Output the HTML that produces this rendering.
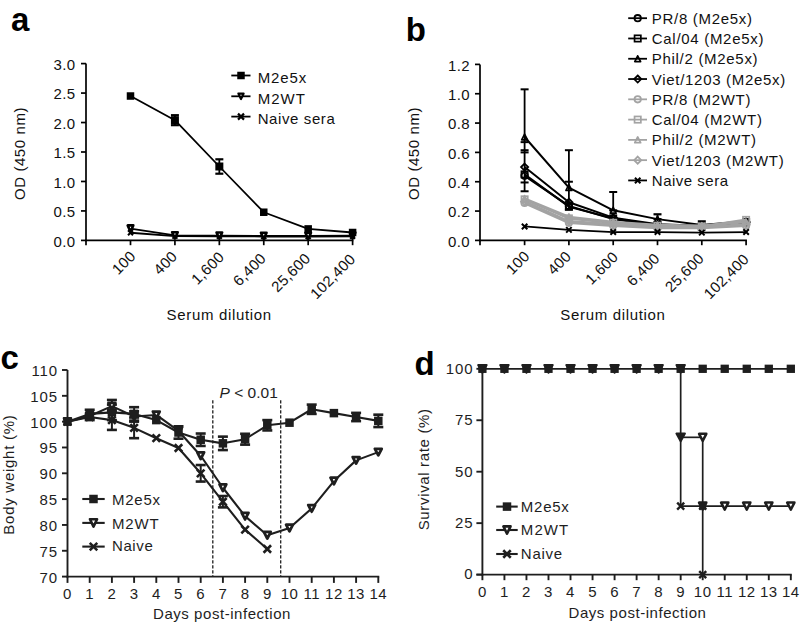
<!DOCTYPE html><html><head><meta charset="utf-8"><style>html,body{margin:0;padding:0;background:#fff;}svg{display:block;}text{font-family:"Liberation Sans", sans-serif;}</style></head><body>
<svg width="802" height="624" viewBox="0 0 802 624">
<rect width="802" height="624" fill="#fff"/>
<text x="11" y="31.3" font-size="33" text-anchor="start" letter-spacing="0" fill="#000" font-weight="bold">a</text>
<line x1="86" y1="63.6" x2="86" y2="241.25" stroke="#000" stroke-width="1.7" />
<line x1="81" y1="240.4" x2="86" y2="240.4" stroke="#000" stroke-width="1.7" />
<text x="75.4" y="246.7" font-size="15" text-anchor="end" letter-spacing="0.35" fill="#111" font-weight="normal">0.0</text>
<line x1="81" y1="210.93" x2="86" y2="210.93" stroke="#000" stroke-width="1.7" />
<text x="75.4" y="217.23" font-size="15" text-anchor="end" letter-spacing="0.35" fill="#111" font-weight="normal">0.5</text>
<line x1="81" y1="181.47" x2="86" y2="181.47" stroke="#000" stroke-width="1.7" />
<text x="75.4" y="187.77" font-size="15" text-anchor="end" letter-spacing="0.35" fill="#111" font-weight="normal">1.0</text>
<line x1="81" y1="152" x2="86" y2="152" stroke="#000" stroke-width="1.7" />
<text x="75.4" y="158.3" font-size="15" text-anchor="end" letter-spacing="0.35" fill="#111" font-weight="normal">1.5</text>
<line x1="81" y1="122.53" x2="86" y2="122.53" stroke="#000" stroke-width="1.7" />
<text x="75.4" y="128.83" font-size="15" text-anchor="end" letter-spacing="0.35" fill="#111" font-weight="normal">2.0</text>
<line x1="81" y1="93.07" x2="86" y2="93.07" stroke="#000" stroke-width="1.7" />
<text x="75.4" y="99.37" font-size="15" text-anchor="end" letter-spacing="0.35" fill="#111" font-weight="normal">2.5</text>
<line x1="81" y1="63.6" x2="86" y2="63.6" stroke="#000" stroke-width="1.7" />
<text x="75.4" y="69.9" font-size="15" text-anchor="end" letter-spacing="0.35" fill="#111" font-weight="normal">3.0</text>
<line x1="85.15" y1="240.4" x2="353.45" y2="240.4" stroke="#000" stroke-width="1.7" />
<line x1="86" y1="240.4" x2="86" y2="245.2" stroke="#000" stroke-width="1.7" />
<line x1="130.5" y1="240.4" x2="130.5" y2="245.2" stroke="#000" stroke-width="1.7" />
<line x1="174.92" y1="240.4" x2="174.92" y2="245.2" stroke="#000" stroke-width="1.7" />
<line x1="219.34" y1="240.4" x2="219.34" y2="245.2" stroke="#000" stroke-width="1.7" />
<line x1="263.76" y1="240.4" x2="263.76" y2="245.2" stroke="#000" stroke-width="1.7" />
<line x1="308.18" y1="240.4" x2="308.18" y2="245.2" stroke="#000" stroke-width="1.7" />
<line x1="352.6" y1="240.4" x2="352.6" y2="245.2" stroke="#000" stroke-width="1.7" />
<text x="0" y="0" font-size="15" text-anchor="end" letter-spacing="0.3" fill="#111" transform="translate(136.5,257.1) rotate(-45)">100</text>
<text x="0" y="0" font-size="15" text-anchor="end" letter-spacing="0.3" fill="#111" transform="translate(178.12,257.3) rotate(-45)">400</text>
<text x="0" y="0" font-size="15" text-anchor="end" letter-spacing="0.3" fill="#111" transform="translate(225.14,258) rotate(-45)">1,600</text>
<text x="0" y="0" font-size="15" text-anchor="end" letter-spacing="0.3" fill="#111" transform="translate(266.96,259.3) rotate(-45)">6,400</text>
<text x="0" y="0" font-size="15" text-anchor="end" letter-spacing="0.3" fill="#111" transform="translate(311.28,259.3) rotate(-45)">25,600</text>
<text x="0" y="0" font-size="15" text-anchor="end" letter-spacing="0.3" fill="#111" transform="translate(356.3,260.1) rotate(-45)">102,400</text>
<text x="219.2" y="319.6" font-size="15" text-anchor="middle" letter-spacing="0.67" fill="#111" font-weight="normal">Serum dilution</text>
<text x="0" y="0" font-size="15" text-anchor="middle" letter-spacing="0.58" fill="#111" transform="translate(24.8,153.5) rotate(-90)">OD (450 nm)</text>
<polyline points="130.5,232.74 174.92,236.16 219.34,236.27 263.76,236.51 308.18,236.51 352.6,236.27" fill="none" stroke="#000" stroke-width="1.8" stroke-linejoin="round"/>
<polyline points="130.5,228.61 174.92,235.39 219.34,235.69 263.76,235.98 308.18,235.98 352.6,235.69" fill="none" stroke="#000" stroke-width="1.8" stroke-linejoin="round"/>
<polyline points="130.5,96.01 174.92,120.18 219.34,166.5 263.76,212.23 308.18,228.91 352.6,232.5" fill="none" stroke="#000" stroke-width="1.8" stroke-linejoin="round"/>
<line x1="174.92" y1="115.18" x2="174.92" y2="125.18" stroke="#000" stroke-width="1.8" />
<line x1="170.92" y1="115.18" x2="178.92" y2="115.18" stroke="#000" stroke-width="2.2" />
<line x1="170.92" y1="125.18" x2="178.92" y2="125.18" stroke="#000" stroke-width="2.2" />
<line x1="219.34" y1="159.3" x2="219.34" y2="173.7" stroke="#000" stroke-width="1.8" />
<line x1="215.34" y1="159.3" x2="223.34" y2="159.3" stroke="#000" stroke-width="2.2" />
<line x1="215.34" y1="173.7" x2="223.34" y2="173.7" stroke="#000" stroke-width="2.2" />
<path d="M128,230.24L133,235.24M133,230.24L128,235.24" stroke="#000" stroke-width="2" fill="none"/>
<path d="M172.42,233.66L177.42,238.66M177.42,233.66L172.42,238.66" stroke="#000" stroke-width="2" fill="none"/>
<path d="M216.84,233.77L221.84,238.77M221.84,233.77L216.84,238.77" stroke="#000" stroke-width="2" fill="none"/>
<path d="M261.26,234.01L266.26,239.01M266.26,234.01L261.26,239.01" stroke="#000" stroke-width="2" fill="none"/>
<path d="M305.68,234.01L310.68,239.01M310.68,234.01L305.68,239.01" stroke="#000" stroke-width="2" fill="none"/>
<path d="M350.1,233.77L355.1,238.77M355.1,233.77L350.1,238.77" stroke="#000" stroke-width="2" fill="none"/>
<polygon points="127.7,225.41 133.3,225.41 130.5,231.77" fill="#fff" stroke="#000" stroke-width="2.6" stroke-linejoin="round"/>
<polygon points="172.12,232.19 177.72,232.19 174.92,238.55" fill="#fff" stroke="#000" stroke-width="2.6" stroke-linejoin="round"/>
<polygon points="216.54,232.49 222.14,232.49 219.34,238.85" fill="#fff" stroke="#000" stroke-width="2.6" stroke-linejoin="round"/>
<polygon points="260.96,232.78 266.56,232.78 263.76,239.14" fill="#fff" stroke="#000" stroke-width="2.6" stroke-linejoin="round"/>
<polygon points="305.38,232.78 310.98,232.78 308.18,239.14" fill="#fff" stroke="#000" stroke-width="2.6" stroke-linejoin="round"/>
<polygon points="349.8,232.49 355.4,232.49 352.6,238.85" fill="#fff" stroke="#000" stroke-width="2.6" stroke-linejoin="round"/>
<rect x="126.75" y="92.26" width="7.5" height="7.5" fill="#000"/>
<rect x="170.92" y="116.18" width="8" height="8" fill="#000"/>
<rect x="215.34" y="162.5" width="8" height="8" fill="#000"/>
<rect x="260.01" y="208.48" width="7.5" height="7.5" fill="#000"/>
<rect x="304.43" y="225.16" width="7.5" height="7.5" fill="#000"/>
<rect x="348.85" y="228.75" width="7.5" height="7.5" fill="#000"/>
<line x1="231.3" y1="75.5" x2="250.5" y2="75.5" stroke="#000" stroke-width="1.8" />
<rect x="237.25" y="71.75" width="7.5" height="7.5" fill="#000"/>
<text x="257.7" y="82.8" font-size="15" text-anchor="start" letter-spacing="0.9" fill="#111" font-weight="normal">M2e5x</text>
<line x1="231.3" y1="96.3" x2="250.5" y2="96.3" stroke="#000" stroke-width="1.8" />
<polygon points="238.4,93.57 243.6,93.57 241,98.99" fill="#fff" stroke="#000" stroke-width="2.2" stroke-linejoin="round"/>
<text x="257.7" y="103.6" font-size="15" text-anchor="start" letter-spacing="1.0" fill="#111" font-weight="normal">M2WT</text>
<line x1="231.3" y1="116.6" x2="250.5" y2="116.6" stroke="#000" stroke-width="1.8" />
<path d="M238,113.6L244,119.6M244,113.6L238,119.6" stroke="#000" stroke-width="2.2" fill="none"/>
<text x="257.7" y="123.9" font-size="15" text-anchor="start" letter-spacing="0.6" fill="#111" font-weight="normal">Naive sera</text>
<text x="405.8" y="41" font-size="33" text-anchor="start" letter-spacing="0" fill="#000" font-weight="bold">b</text>
<line x1="480" y1="64.4" x2="480" y2="241.25" stroke="#000" stroke-width="1.7" />
<line x1="475" y1="240.4" x2="480" y2="240.4" stroke="#000" stroke-width="1.7" />
<text x="469.9" y="246.8" font-size="15" text-anchor="end" letter-spacing="0.35" fill="#111" font-weight="normal">0.0</text>
<line x1="475" y1="211.07" x2="480" y2="211.07" stroke="#000" stroke-width="1.7" />
<text x="469.9" y="217.47" font-size="15" text-anchor="end" letter-spacing="0.35" fill="#111" font-weight="normal">0.2</text>
<line x1="475" y1="181.73" x2="480" y2="181.73" stroke="#000" stroke-width="1.7" />
<text x="469.9" y="188.13" font-size="15" text-anchor="end" letter-spacing="0.35" fill="#111" font-weight="normal">0.4</text>
<line x1="475" y1="152.4" x2="480" y2="152.4" stroke="#000" stroke-width="1.7" />
<text x="469.9" y="158.8" font-size="15" text-anchor="end" letter-spacing="0.35" fill="#111" font-weight="normal">0.6</text>
<line x1="475" y1="123.07" x2="480" y2="123.07" stroke="#000" stroke-width="1.7" />
<text x="469.9" y="129.47" font-size="15" text-anchor="end" letter-spacing="0.35" fill="#111" font-weight="normal">0.8</text>
<line x1="475" y1="93.73" x2="480" y2="93.73" stroke="#000" stroke-width="1.7" />
<text x="469.9" y="100.13" font-size="15" text-anchor="end" letter-spacing="0.35" fill="#111" font-weight="normal">1.0</text>
<line x1="475" y1="64.4" x2="480" y2="64.4" stroke="#000" stroke-width="1.7" />
<text x="469.9" y="70.8" font-size="15" text-anchor="end" letter-spacing="0.35" fill="#111" font-weight="normal">1.2</text>
<line x1="479.15" y1="240.4" x2="746.95" y2="240.4" stroke="#000" stroke-width="1.7" />
<line x1="480" y1="240.4" x2="480" y2="245.2" stroke="#000" stroke-width="1.7" />
<line x1="524.6" y1="240.4" x2="524.6" y2="245.2" stroke="#000" stroke-width="1.7" />
<line x1="568.9" y1="240.4" x2="568.9" y2="245.2" stroke="#000" stroke-width="1.7" />
<line x1="613.2" y1="240.4" x2="613.2" y2="245.2" stroke="#000" stroke-width="1.7" />
<line x1="657.5" y1="240.4" x2="657.5" y2="245.2" stroke="#000" stroke-width="1.7" />
<line x1="701.8" y1="240.4" x2="701.8" y2="245.2" stroke="#000" stroke-width="1.7" />
<line x1="746.1" y1="240.4" x2="746.1" y2="245.2" stroke="#000" stroke-width="1.7" />
<text x="0" y="0" font-size="15" text-anchor="end" letter-spacing="0.3" fill="#111" transform="translate(530.6,257.1) rotate(-45)">100</text>
<text x="0" y="0" font-size="15" text-anchor="end" letter-spacing="0.3" fill="#111" transform="translate(572.1,257.3) rotate(-45)">400</text>
<text x="0" y="0" font-size="15" text-anchor="end" letter-spacing="0.3" fill="#111" transform="translate(619,258) rotate(-45)">1,600</text>
<text x="0" y="0" font-size="15" text-anchor="end" letter-spacing="0.3" fill="#111" transform="translate(660.7,259.3) rotate(-45)">6,400</text>
<text x="0" y="0" font-size="15" text-anchor="end" letter-spacing="0.3" fill="#111" transform="translate(704.9,259.3) rotate(-45)">25,600</text>
<text x="0" y="0" font-size="15" text-anchor="end" letter-spacing="0.3" fill="#111" transform="translate(749.8,260.1) rotate(-45)">102,400</text>
<text x="613" y="319.6" font-size="15" text-anchor="middle" letter-spacing="0.67" fill="#111" font-weight="normal">Serum dilution</text>
<text x="0" y="0" font-size="15" text-anchor="middle" letter-spacing="0.58" fill="#111" transform="translate(418.8,153.5) rotate(-90)">OD (450 nm)</text>
<line x1="524.6" y1="89.33" x2="524.6" y2="191.27" stroke="#000" stroke-width="1.8" />
<line x1="520.6" y1="89.33" x2="528.6" y2="89.33" stroke="#000" stroke-width="2" />
<line x1="520.6" y1="142.13" x2="528.6" y2="142.13" stroke="#000" stroke-width="2" />
<line x1="520.6" y1="150.2" x2="528.6" y2="150.2" stroke="#000" stroke-width="2" />
<line x1="520.6" y1="152.4" x2="528.6" y2="152.4" stroke="#000" stroke-width="2" />
<line x1="520.6" y1="182.47" x2="528.6" y2="182.47" stroke="#000" stroke-width="2" />
<line x1="520.6" y1="191.27" x2="528.6" y2="191.27" stroke="#000" stroke-width="2" />
<line x1="568.9" y1="150.2" x2="568.9" y2="209.6" stroke="#000" stroke-width="1.8" />
<line x1="564.9" y1="150.2" x2="572.9" y2="150.2" stroke="#000" stroke-width="2" />
<line x1="564.9" y1="209.6" x2="572.9" y2="209.6" stroke="#000" stroke-width="2" />
<line x1="564.9" y1="181.73" x2="572.9" y2="181.73" stroke="#000" stroke-width="2" />
<line x1="613.2" y1="192" x2="613.2" y2="210.33" stroke="#000" stroke-width="1.8" />
<line x1="609.2" y1="192" x2="617.2" y2="192" stroke="#000" stroke-width="2" />
<line x1="609.2" y1="210.33" x2="617.2" y2="210.33" stroke="#000" stroke-width="2" />
<line x1="657.5" y1="214.29" x2="657.5" y2="219.13" stroke="#000" stroke-width="1.8" />
<line x1="653.5" y1="214.29" x2="661.5" y2="214.29" stroke="#000" stroke-width="2.2" />
<line x1="653.5" y1="219.13" x2="661.5" y2="219.13" stroke="#000" stroke-width="2.2" />
<line x1="701.8" y1="221.33" x2="701.8" y2="225" stroke="#000" stroke-width="1.8" />
<line x1="697.8" y1="221.33" x2="705.8" y2="221.33" stroke="#000" stroke-width="2.2" />
<line x1="697.8" y1="225" x2="705.8" y2="225" stroke="#000" stroke-width="2.2" />
<polyline points="524.6,175.87 568.9,205.93 613.2,219.13 657.5,225.73 701.8,226.47 746.1,222.8" fill="none" stroke="#000" stroke-width="2.0" stroke-linejoin="round"/>
<circle cx="524.6" cy="175.87" r="3.2" fill="none" stroke="#000" stroke-width="1.8"/>
<circle cx="568.9" cy="205.93" r="3.2" fill="none" stroke="#000" stroke-width="1.8"/>
<circle cx="613.2" cy="219.13" r="3.2" fill="none" stroke="#000" stroke-width="1.8"/>
<circle cx="657.5" cy="225.73" r="3.2" fill="none" stroke="#000" stroke-width="1.8"/>
<circle cx="701.8" cy="226.47" r="3.2" fill="none" stroke="#000" stroke-width="1.8"/>
<circle cx="746.1" cy="222.8" r="3.2" fill="none" stroke="#000" stroke-width="1.8"/>
<polyline points="524.6,174.4 568.9,206.67 613.2,218.4 657.5,225 701.8,226.47 746.1,222.07" fill="none" stroke="#000" stroke-width="2.0" stroke-linejoin="round"/>
<rect x="521.45" y="171.25" width="6.3" height="6.3" fill="none" stroke="#000" stroke-width="1.7"/>
<rect x="565.75" y="203.52" width="6.3" height="6.3" fill="none" stroke="#000" stroke-width="1.7"/>
<rect x="610.05" y="215.25" width="6.3" height="6.3" fill="none" stroke="#000" stroke-width="1.7"/>
<rect x="654.35" y="221.85" width="6.3" height="6.3" fill="none" stroke="#000" stroke-width="1.7"/>
<rect x="698.65" y="223.32" width="6.3" height="6.3" fill="none" stroke="#000" stroke-width="1.7"/>
<rect x="742.95" y="218.92" width="6.3" height="6.3" fill="none" stroke="#000" stroke-width="1.7"/>
<polyline points="524.6,137 568.9,187.6 613.2,210.33 657.5,219.13 701.8,225 746.1,221.33" fill="none" stroke="#000" stroke-width="2.0" stroke-linejoin="round"/>
<polygon points="521.68,139.84 527.52,139.84 524.6,134.02" fill="none" stroke="#000" stroke-width="1.7" stroke-linejoin="round"/>
<polygon points="565.98,190.44 571.82,190.44 568.9,184.62" fill="none" stroke="#000" stroke-width="1.7" stroke-linejoin="round"/>
<polygon points="610.28,213.17 616.12,213.17 613.2,207.35" fill="none" stroke="#000" stroke-width="1.7" stroke-linejoin="round"/>
<polygon points="654.58,221.97 660.42,221.97 657.5,216.15" fill="none" stroke="#000" stroke-width="1.7" stroke-linejoin="round"/>
<polygon points="698.88,227.84 704.72,227.84 701.8,222.02" fill="none" stroke="#000" stroke-width="1.7" stroke-linejoin="round"/>
<polygon points="743.18,224.17 749.02,224.17 746.1,218.35" fill="none" stroke="#000" stroke-width="1.7" stroke-linejoin="round"/>
<polyline points="524.6,167.07 568.9,202.27 613.2,217.67 657.5,224.27 701.8,225.73 746.1,222.07" fill="none" stroke="#000" stroke-width="2.0" stroke-linejoin="round"/>
<polygon points="524.6,163.53 528.14,167.07 524.6,170.61 521.06,167.07" fill="none" stroke="#000" stroke-width="1.8"/>
<polygon points="568.9,198.73 572.44,202.27 568.9,205.81 565.36,202.27" fill="none" stroke="#000" stroke-width="1.8"/>
<polygon points="613.2,214.13 616.74,217.67 613.2,221.21 609.66,217.67" fill="none" stroke="#000" stroke-width="1.8"/>
<polygon points="657.5,220.73 661.04,224.27 657.5,227.81 653.96,224.27" fill="none" stroke="#000" stroke-width="1.8"/>
<polygon points="701.8,222.19 705.34,225.73 701.8,229.27 698.26,225.73" fill="none" stroke="#000" stroke-width="1.8"/>
<polygon points="746.1,218.53 749.64,222.07 746.1,225.61 742.56,222.07" fill="none" stroke="#000" stroke-width="1.8"/>
<polyline points="524.6,203 568.9,222.8 613.2,225.73 657.5,227.93 701.8,227.93 746.1,225.73" fill="none" stroke="#a3a3a3" stroke-width="2.6" stroke-linejoin="round"/>
<circle cx="524.6" cy="203" r="3.2" fill="none" stroke="#a3a3a3" stroke-width="1.8"/>
<circle cx="568.9" cy="222.8" r="3.2" fill="none" stroke="#a3a3a3" stroke-width="1.8"/>
<circle cx="613.2" cy="225.73" r="3.2" fill="none" stroke="#a3a3a3" stroke-width="1.8"/>
<circle cx="657.5" cy="227.93" r="3.2" fill="none" stroke="#a3a3a3" stroke-width="1.8"/>
<circle cx="701.8" cy="227.93" r="3.2" fill="none" stroke="#a3a3a3" stroke-width="1.8"/>
<circle cx="746.1" cy="225.73" r="3.2" fill="none" stroke="#a3a3a3" stroke-width="1.8"/>
<polyline points="524.6,199.33 568.9,218.4 613.2,222.8 657.5,225.73 701.8,226.47 746.1,219.87" fill="none" stroke="#a3a3a3" stroke-width="2.6" stroke-linejoin="round"/>
<rect x="521.45" y="196.18" width="6.3" height="6.3" fill="none" stroke="#a3a3a3" stroke-width="1.7"/>
<rect x="565.75" y="215.25" width="6.3" height="6.3" fill="none" stroke="#a3a3a3" stroke-width="1.7"/>
<rect x="610.05" y="219.65" width="6.3" height="6.3" fill="none" stroke="#a3a3a3" stroke-width="1.7"/>
<rect x="654.35" y="222.58" width="6.3" height="6.3" fill="none" stroke="#a3a3a3" stroke-width="1.7"/>
<rect x="698.65" y="223.32" width="6.3" height="6.3" fill="none" stroke="#a3a3a3" stroke-width="1.7"/>
<rect x="742.95" y="216.72" width="6.3" height="6.3" fill="none" stroke="#a3a3a3" stroke-width="1.7"/>
<polyline points="524.6,198.6 568.9,216.93 613.2,222.07 657.5,225 701.8,225.73 746.1,222.07" fill="none" stroke="#a3a3a3" stroke-width="2.6" stroke-linejoin="round"/>
<polygon points="521.68,201.44 527.52,201.44 524.6,195.62" fill="none" stroke="#a3a3a3" stroke-width="1.7" stroke-linejoin="round"/>
<polygon points="565.98,219.77 571.82,219.77 568.9,213.95" fill="none" stroke="#a3a3a3" stroke-width="1.7" stroke-linejoin="round"/>
<polygon points="610.28,224.91 616.12,224.91 613.2,219.09" fill="none" stroke="#a3a3a3" stroke-width="1.7" stroke-linejoin="round"/>
<polygon points="654.58,227.84 660.42,227.84 657.5,222.02" fill="none" stroke="#a3a3a3" stroke-width="1.7" stroke-linejoin="round"/>
<polygon points="698.88,228.57 704.72,228.57 701.8,222.75" fill="none" stroke="#a3a3a3" stroke-width="1.7" stroke-linejoin="round"/>
<polygon points="743.18,224.91 749.02,224.91 746.1,219.09" fill="none" stroke="#a3a3a3" stroke-width="1.7" stroke-linejoin="round"/>
<polyline points="524.6,201.53 568.9,221.33 613.2,224.27 657.5,227.2 701.8,227.2 746.1,224.27" fill="none" stroke="#a3a3a3" stroke-width="2.6" stroke-linejoin="round"/>
<polygon points="524.6,197.99 528.14,201.53 524.6,205.07 521.06,201.53" fill="none" stroke="#a3a3a3" stroke-width="1.8"/>
<polygon points="568.9,217.79 572.44,221.33 568.9,224.87 565.36,221.33" fill="none" stroke="#a3a3a3" stroke-width="1.8"/>
<polygon points="613.2,220.73 616.74,224.27 613.2,227.81 609.66,224.27" fill="none" stroke="#a3a3a3" stroke-width="1.8"/>
<polygon points="657.5,223.66 661.04,227.2 657.5,230.74 653.96,227.2" fill="none" stroke="#a3a3a3" stroke-width="1.8"/>
<polygon points="701.8,223.66 705.34,227.2 701.8,230.74 698.26,227.2" fill="none" stroke="#a3a3a3" stroke-width="1.8"/>
<polygon points="746.1,220.73 749.64,224.27 746.1,227.81 742.56,224.27" fill="none" stroke="#a3a3a3" stroke-width="1.8"/>
<polyline points="524.6,226.47 568.9,229.84 613.2,232.04 657.5,232.04 701.8,232.63 746.1,232.04" fill="none" stroke="#000" stroke-width="1.8" stroke-linejoin="round"/>
<path d="M521.85,223.72L527.35,229.22M527.35,223.72L521.85,229.22" stroke="#000" stroke-width="2" fill="none"/>
<path d="M566.15,227.09L571.65,232.59M571.65,227.09L566.15,232.59" stroke="#000" stroke-width="2" fill="none"/>
<path d="M610.45,229.29L615.95,234.79M615.95,229.29L610.45,234.79" stroke="#000" stroke-width="2" fill="none"/>
<path d="M654.75,229.29L660.25,234.79M660.25,229.29L654.75,234.79" stroke="#000" stroke-width="2" fill="none"/>
<path d="M699.05,229.88L704.55,235.38M704.55,229.88L699.05,235.38" stroke="#000" stroke-width="2" fill="none"/>
<path d="M743.35,229.29L748.85,234.79M748.85,229.29L743.35,234.79" stroke="#000" stroke-width="2" fill="none"/>
<line x1="628.2" y1="18.2" x2="647" y2="18.2" stroke="#000" stroke-width="1.8" />
<circle cx="637.7" cy="18.2" r="3.2" fill="none" stroke="#000" stroke-width="1.8"/>
<text x="651.8" y="23.8" font-size="15" text-anchor="start" letter-spacing="0.7" fill="#111" font-weight="normal">PR/8 (M2e5x)</text>
<line x1="628.2" y1="38.48" x2="647" y2="38.48" stroke="#000" stroke-width="1.8" />
<rect x="634.55" y="35.33" width="6.3" height="6.3" fill="none" stroke="#000" stroke-width="1.7"/>
<text x="651.8" y="44.08" font-size="15" text-anchor="start" letter-spacing="0.7" fill="#111" font-weight="normal">Cal/04 (M2e5x)</text>
<line x1="628.2" y1="58.76" x2="647" y2="58.76" stroke="#000" stroke-width="1.8" />
<polygon points="634.78,61.6 640.62,61.6 637.7,55.78" fill="none" stroke="#000" stroke-width="1.7" stroke-linejoin="round"/>
<text x="651.8" y="64.36" font-size="15" text-anchor="start" letter-spacing="0.7" fill="#111" font-weight="normal">Phil/2 (M2e5x)</text>
<line x1="628.2" y1="79.04" x2="647" y2="79.04" stroke="#000" stroke-width="1.8" />
<polygon points="637.7,75.5 641.24,79.04 637.7,82.58 634.16,79.04" fill="none" stroke="#000" stroke-width="1.8"/>
<text x="651.8" y="84.64" font-size="15" text-anchor="start" letter-spacing="0.7" fill="#111" font-weight="normal">Viet/1203 (M2e5x)</text>
<line x1="628.2" y1="99.32" x2="647" y2="99.32" stroke="#a3a3a3" stroke-width="1.8" />
<circle cx="637.7" cy="99.32" r="3.2" fill="none" stroke="#a3a3a3" stroke-width="1.8"/>
<text x="651.8" y="104.92" font-size="15" text-anchor="start" letter-spacing="0.7" fill="#111" font-weight="normal">PR/8 (M2WT)</text>
<line x1="628.2" y1="119.6" x2="647" y2="119.6" stroke="#a3a3a3" stroke-width="1.8" />
<rect x="634.55" y="116.45" width="6.3" height="6.3" fill="none" stroke="#a3a3a3" stroke-width="1.7"/>
<text x="651.8" y="125.2" font-size="15" text-anchor="start" letter-spacing="0.7" fill="#111" font-weight="normal">Cal/04 (M2WT)</text>
<line x1="628.2" y1="139.88" x2="647" y2="139.88" stroke="#a3a3a3" stroke-width="1.8" />
<polygon points="634.78,142.72 640.62,142.72 637.7,136.9" fill="none" stroke="#a3a3a3" stroke-width="1.7" stroke-linejoin="round"/>
<text x="651.8" y="145.48" font-size="15" text-anchor="start" letter-spacing="0.7" fill="#111" font-weight="normal">Phil/2 (M2WT)</text>
<line x1="628.2" y1="160.16" x2="647" y2="160.16" stroke="#a3a3a3" stroke-width="1.8" />
<polygon points="637.7,156.62 641.24,160.16 637.7,163.7 634.16,160.16" fill="none" stroke="#a3a3a3" stroke-width="1.8"/>
<text x="651.8" y="165.76" font-size="15" text-anchor="start" letter-spacing="0.7" fill="#111" font-weight="normal">Viet/1203 (M2WT)</text>
<line x1="628.2" y1="180.44" x2="647" y2="180.44" stroke="#000" stroke-width="1.8" />
<path d="M634.95,177.69L640.45,183.19M640.45,177.69L634.95,183.19" stroke="#000" stroke-width="2" fill="none"/>
<text x="651.8" y="186.04" font-size="15" text-anchor="start" letter-spacing="0.5" fill="#111" font-weight="normal">Naive sera</text>
<text x="0.6" y="368.9" font-size="33" text-anchor="start" letter-spacing="0" fill="#000" font-weight="bold">c</text>
<line x1="67.5" y1="370" x2="67.5" y2="577.55" stroke="#1e1e1e" stroke-width="1.9" />
<line x1="62" y1="576.6" x2="67.5" y2="576.6" stroke="#1e1e1e" stroke-width="1.9" />
<text x="58" y="582.5" font-size="15" text-anchor="end" letter-spacing="0.9" fill="#1e1e1e" font-weight="normal">70</text>
<line x1="62" y1="550.77" x2="67.5" y2="550.77" stroke="#1e1e1e" stroke-width="1.9" />
<text x="58" y="556.67" font-size="15" text-anchor="end" letter-spacing="0.9" fill="#1e1e1e" font-weight="normal">75</text>
<line x1="62" y1="524.95" x2="67.5" y2="524.95" stroke="#1e1e1e" stroke-width="1.9" />
<text x="58" y="530.85" font-size="15" text-anchor="end" letter-spacing="0.9" fill="#1e1e1e" font-weight="normal">80</text>
<line x1="62" y1="499.12" x2="67.5" y2="499.12" stroke="#1e1e1e" stroke-width="1.9" />
<text x="58" y="505.02" font-size="15" text-anchor="end" letter-spacing="0.9" fill="#1e1e1e" font-weight="normal">85</text>
<line x1="62" y1="473.3" x2="67.5" y2="473.3" stroke="#1e1e1e" stroke-width="1.9" />
<text x="58" y="479.2" font-size="15" text-anchor="end" letter-spacing="0.9" fill="#1e1e1e" font-weight="normal">90</text>
<line x1="62" y1="447.48" x2="67.5" y2="447.48" stroke="#1e1e1e" stroke-width="1.9" />
<text x="58" y="453.38" font-size="15" text-anchor="end" letter-spacing="0.9" fill="#1e1e1e" font-weight="normal">95</text>
<line x1="62" y1="421.65" x2="67.5" y2="421.65" stroke="#1e1e1e" stroke-width="1.9" />
<text x="58" y="427.55" font-size="15" text-anchor="end" letter-spacing="0.9" fill="#1e1e1e" font-weight="normal">100</text>
<line x1="62" y1="395.82" x2="67.5" y2="395.82" stroke="#1e1e1e" stroke-width="1.9" />
<text x="58" y="401.72" font-size="15" text-anchor="end" letter-spacing="0.9" fill="#1e1e1e" font-weight="normal">105</text>
<line x1="62" y1="370" x2="67.5" y2="370" stroke="#1e1e1e" stroke-width="1.9" />
<text x="58" y="375.9" font-size="15" text-anchor="end" letter-spacing="0.9" fill="#1e1e1e" font-weight="normal">110</text>
<line x1="66.55" y1="576.6" x2="379.25" y2="576.6" stroke="#1e1e1e" stroke-width="1.9" />
<line x1="67.5" y1="576.6" x2="67.5" y2="582.9" stroke="#1e1e1e" stroke-width="1.9" />
<text x="67.5" y="598.8" font-size="15" text-anchor="middle" letter-spacing="0.5" fill="#1e1e1e" font-weight="normal">0</text>
<line x1="89.7" y1="576.6" x2="89.7" y2="582.9" stroke="#1e1e1e" stroke-width="1.9" />
<text x="89.7" y="598.8" font-size="15" text-anchor="middle" letter-spacing="0.5" fill="#1e1e1e" font-weight="normal">1</text>
<line x1="111.9" y1="576.6" x2="111.9" y2="582.9" stroke="#1e1e1e" stroke-width="1.9" />
<text x="111.9" y="598.8" font-size="15" text-anchor="middle" letter-spacing="0.5" fill="#1e1e1e" font-weight="normal">2</text>
<line x1="134.1" y1="576.6" x2="134.1" y2="582.9" stroke="#1e1e1e" stroke-width="1.9" />
<text x="134.1" y="598.8" font-size="15" text-anchor="middle" letter-spacing="0.5" fill="#1e1e1e" font-weight="normal">3</text>
<line x1="156.3" y1="576.6" x2="156.3" y2="582.9" stroke="#1e1e1e" stroke-width="1.9" />
<text x="156.3" y="598.8" font-size="15" text-anchor="middle" letter-spacing="0.5" fill="#1e1e1e" font-weight="normal">4</text>
<line x1="178.5" y1="576.6" x2="178.5" y2="582.9" stroke="#1e1e1e" stroke-width="1.9" />
<text x="178.5" y="598.8" font-size="15" text-anchor="middle" letter-spacing="0.5" fill="#1e1e1e" font-weight="normal">5</text>
<line x1="200.7" y1="576.6" x2="200.7" y2="582.9" stroke="#1e1e1e" stroke-width="1.9" />
<text x="200.7" y="598.8" font-size="15" text-anchor="middle" letter-spacing="0.5" fill="#1e1e1e" font-weight="normal">6</text>
<line x1="222.9" y1="576.6" x2="222.9" y2="582.9" stroke="#1e1e1e" stroke-width="1.9" />
<text x="222.9" y="598.8" font-size="15" text-anchor="middle" letter-spacing="0.5" fill="#1e1e1e" font-weight="normal">7</text>
<line x1="245.1" y1="576.6" x2="245.1" y2="582.9" stroke="#1e1e1e" stroke-width="1.9" />
<text x="245.1" y="598.8" font-size="15" text-anchor="middle" letter-spacing="0.5" fill="#1e1e1e" font-weight="normal">8</text>
<line x1="267.3" y1="576.6" x2="267.3" y2="582.9" stroke="#1e1e1e" stroke-width="1.9" />
<text x="267.3" y="598.8" font-size="15" text-anchor="middle" letter-spacing="0.5" fill="#1e1e1e" font-weight="normal">9</text>
<line x1="289.5" y1="576.6" x2="289.5" y2="582.9" stroke="#1e1e1e" stroke-width="1.9" />
<text x="289.5" y="598.8" font-size="15" text-anchor="middle" letter-spacing="0.5" fill="#1e1e1e" font-weight="normal">10</text>
<line x1="311.7" y1="576.6" x2="311.7" y2="582.9" stroke="#1e1e1e" stroke-width="1.9" />
<text x="311.7" y="598.8" font-size="15" text-anchor="middle" letter-spacing="0.5" fill="#1e1e1e" font-weight="normal">11</text>
<line x1="333.9" y1="576.6" x2="333.9" y2="582.9" stroke="#1e1e1e" stroke-width="1.9" />
<text x="333.9" y="598.8" font-size="15" text-anchor="middle" letter-spacing="0.5" fill="#1e1e1e" font-weight="normal">12</text>
<line x1="356.1" y1="576.6" x2="356.1" y2="582.9" stroke="#1e1e1e" stroke-width="1.9" />
<text x="356.1" y="598.8" font-size="15" text-anchor="middle" letter-spacing="0.5" fill="#1e1e1e" font-weight="normal">13</text>
<line x1="378.3" y1="576.6" x2="378.3" y2="582.9" stroke="#1e1e1e" stroke-width="1.9" />
<text x="378.3" y="598.8" font-size="15" text-anchor="middle" letter-spacing="0.5" fill="#1e1e1e" font-weight="normal">14</text>
<text x="222" y="619.4" font-size="15" text-anchor="middle" letter-spacing="0.54" fill="#1e1e1e" font-weight="normal">Days post-infection</text>
<text x="0" y="0" font-size="15" text-anchor="middle" letter-spacing="0.73" fill="#1e1e1e" transform="translate(14.3,474.6) rotate(-90)">Body weight (%)</text>
<line x1="212.8" y1="400.2" x2="212.8" y2="576.6" stroke="#1e1e1e" stroke-width="1.3" stroke-dasharray="3.2,1.8"/>
<line x1="280.7" y1="400.2" x2="280.7" y2="576.6" stroke="#1e1e1e" stroke-width="1.3" stroke-dasharray="3.2,1.8"/>
<text x="219.4" y="398" font-size="15.5" letter-spacing="0.05" fill="#1e1e1e"><tspan font-style="italic">P</tspan> &lt; 0.01</text>
<polyline points="67.5,421.65 89.7,417 111.9,420.1 134.1,427.85 156.3,438.18 178.5,447.99 200.7,473.3 222.9,501.71 245.1,529.6 267.3,548.97" fill="none" stroke="#1e1e1e" stroke-width="2.1" stroke-linejoin="round"/>
<polyline points="67.5,421.65 89.7,415.97 111.9,406.15 134.1,416.49 156.3,414.94 178.5,430.95 200.7,455.74 222.9,487.76 245.1,516.17 267.3,535.28 289.5,528.05 311.7,508.42 333.9,481.05 356.1,460.39 378.3,452.12" fill="none" stroke="#1e1e1e" stroke-width="2.1" stroke-linejoin="round"/>
<polyline points="67.5,421.65 89.7,413.9 111.9,412.35 134.1,413.9 156.3,420.1 178.5,432.5 200.7,439.73 222.9,443.34 245.1,439.21 267.3,425.27 289.5,422.68 311.7,409.25 333.9,413.13 356.1,417 378.3,420.88" fill="none" stroke="#1e1e1e" stroke-width="2.1" stroke-linejoin="round"/>
<line x1="89.7" y1="413.9" x2="89.7" y2="420.1" stroke="#1e1e1e" stroke-width="2" />
<line x1="84.7" y1="413.9" x2="94.7" y2="413.9" stroke="#1e1e1e" stroke-width="2.6" />
<line x1="84.7" y1="420.1" x2="94.7" y2="420.1" stroke="#1e1e1e" stroke-width="2.6" />
<line x1="111.9" y1="410.29" x2="111.9" y2="429.91" stroke="#1e1e1e" stroke-width="2" />
<line x1="106.9" y1="410.29" x2="116.9" y2="410.29" stroke="#1e1e1e" stroke-width="2.6" />
<line x1="106.9" y1="429.91" x2="116.9" y2="429.91" stroke="#1e1e1e" stroke-width="2.6" />
<line x1="134.1" y1="417.52" x2="134.1" y2="438.18" stroke="#1e1e1e" stroke-width="2" />
<line x1="129.1" y1="417.52" x2="139.1" y2="417.52" stroke="#1e1e1e" stroke-width="2.6" />
<line x1="129.1" y1="438.18" x2="139.1" y2="438.18" stroke="#1e1e1e" stroke-width="2.6" />
<line x1="200.7" y1="465.04" x2="200.7" y2="481.56" stroke="#1e1e1e" stroke-width="2" />
<line x1="195.7" y1="465.04" x2="205.7" y2="465.04" stroke="#1e1e1e" stroke-width="2.6" />
<line x1="195.7" y1="481.56" x2="205.7" y2="481.56" stroke="#1e1e1e" stroke-width="2.6" />
<line x1="222.9" y1="496.03" x2="222.9" y2="507.39" stroke="#1e1e1e" stroke-width="2" />
<line x1="217.9" y1="496.03" x2="227.9" y2="496.03" stroke="#1e1e1e" stroke-width="2.6" />
<line x1="217.9" y1="507.39" x2="227.9" y2="507.39" stroke="#1e1e1e" stroke-width="2.6" />
<line x1="111.9" y1="399.96" x2="111.9" y2="412.35" stroke="#1e1e1e" stroke-width="2" />
<line x1="106.9" y1="399.96" x2="116.9" y2="399.96" stroke="#1e1e1e" stroke-width="2.6" />
<line x1="106.9" y1="412.35" x2="116.9" y2="412.35" stroke="#1e1e1e" stroke-width="2.6" />
<line x1="134.1" y1="411.32" x2="134.1" y2="421.65" stroke="#1e1e1e" stroke-width="2" />
<line x1="129.1" y1="411.32" x2="139.1" y2="411.32" stroke="#1e1e1e" stroke-width="2.6" />
<line x1="129.1" y1="421.65" x2="139.1" y2="421.65" stroke="#1e1e1e" stroke-width="2.6" />
<line x1="89.7" y1="409.77" x2="89.7" y2="418.03" stroke="#1e1e1e" stroke-width="2" />
<line x1="84.7" y1="409.77" x2="94.7" y2="409.77" stroke="#1e1e1e" stroke-width="2.6" />
<line x1="84.7" y1="418.03" x2="94.7" y2="418.03" stroke="#1e1e1e" stroke-width="2.6" />
<line x1="111.9" y1="404.61" x2="111.9" y2="420.1" stroke="#1e1e1e" stroke-width="2" />
<line x1="106.9" y1="404.61" x2="116.9" y2="404.61" stroke="#1e1e1e" stroke-width="2.6" />
<line x1="106.9" y1="420.1" x2="116.9" y2="420.1" stroke="#1e1e1e" stroke-width="2.6" />
<line x1="134.1" y1="407.19" x2="134.1" y2="420.62" stroke="#1e1e1e" stroke-width="2" />
<line x1="129.1" y1="407.19" x2="139.1" y2="407.19" stroke="#1e1e1e" stroke-width="2.6" />
<line x1="129.1" y1="420.62" x2="139.1" y2="420.62" stroke="#1e1e1e" stroke-width="2.6" />
<line x1="178.5" y1="426.3" x2="178.5" y2="438.69" stroke="#1e1e1e" stroke-width="2" />
<line x1="173.5" y1="426.3" x2="183.5" y2="426.3" stroke="#1e1e1e" stroke-width="2.6" />
<line x1="173.5" y1="438.69" x2="183.5" y2="438.69" stroke="#1e1e1e" stroke-width="2.6" />
<line x1="200.7" y1="433.53" x2="200.7" y2="445.93" stroke="#1e1e1e" stroke-width="2" />
<line x1="195.7" y1="433.53" x2="205.7" y2="433.53" stroke="#1e1e1e" stroke-width="2.6" />
<line x1="195.7" y1="445.93" x2="205.7" y2="445.93" stroke="#1e1e1e" stroke-width="2.6" />
<line x1="222.9" y1="436.63" x2="222.9" y2="450.06" stroke="#1e1e1e" stroke-width="2" />
<line x1="217.9" y1="436.63" x2="227.9" y2="436.63" stroke="#1e1e1e" stroke-width="2.6" />
<line x1="217.9" y1="450.06" x2="227.9" y2="450.06" stroke="#1e1e1e" stroke-width="2.6" />
<line x1="245.1" y1="433.79" x2="245.1" y2="444.63" stroke="#1e1e1e" stroke-width="2" />
<line x1="240.1" y1="433.79" x2="250.1" y2="433.79" stroke="#1e1e1e" stroke-width="2.6" />
<line x1="240.1" y1="444.63" x2="250.1" y2="444.63" stroke="#1e1e1e" stroke-width="2.6" />
<line x1="267.3" y1="420.1" x2="267.3" y2="430.43" stroke="#1e1e1e" stroke-width="2" />
<line x1="262.3" y1="420.1" x2="272.3" y2="420.1" stroke="#1e1e1e" stroke-width="2.6" />
<line x1="262.3" y1="430.43" x2="272.3" y2="430.43" stroke="#1e1e1e" stroke-width="2.6" />
<line x1="311.7" y1="404.61" x2="311.7" y2="413.9" stroke="#1e1e1e" stroke-width="2" />
<line x1="306.7" y1="404.61" x2="316.7" y2="404.61" stroke="#1e1e1e" stroke-width="2.6" />
<line x1="306.7" y1="413.9" x2="316.7" y2="413.9" stroke="#1e1e1e" stroke-width="2.6" />
<line x1="356.1" y1="412.87" x2="356.1" y2="421.13" stroke="#1e1e1e" stroke-width="2" />
<line x1="351.1" y1="412.87" x2="361.1" y2="412.87" stroke="#1e1e1e" stroke-width="2.6" />
<line x1="351.1" y1="421.13" x2="361.1" y2="421.13" stroke="#1e1e1e" stroke-width="2.6" />
<line x1="378.3" y1="414.68" x2="378.3" y2="427.07" stroke="#1e1e1e" stroke-width="2" />
<line x1="373.3" y1="414.68" x2="383.3" y2="414.68" stroke="#1e1e1e" stroke-width="2.6" />
<line x1="373.3" y1="427.07" x2="383.3" y2="427.07" stroke="#1e1e1e" stroke-width="2.6" />
<path d="M63.75,417.9L71.25,425.4M71.25,417.9L63.75,425.4" stroke="#1e1e1e" stroke-width="2.6" fill="none"/>
<path d="M85.95,413.25L93.45,420.75M93.45,413.25L85.95,420.75" stroke="#1e1e1e" stroke-width="2.6" fill="none"/>
<path d="M108.15,416.35L115.65,423.85M115.65,416.35L108.15,423.85" stroke="#1e1e1e" stroke-width="2.6" fill="none"/>
<path d="M130.35,424.1L137.85,431.6M137.85,424.1L130.35,431.6" stroke="#1e1e1e" stroke-width="2.6" fill="none"/>
<path d="M152.55,434.43L160.05,441.93M160.05,434.43L152.55,441.93" stroke="#1e1e1e" stroke-width="2.6" fill="none"/>
<path d="M174.75,444.24L182.25,451.74M182.25,444.24L174.75,451.74" stroke="#1e1e1e" stroke-width="2.6" fill="none"/>
<path d="M196.95,469.55L204.45,477.05M204.45,469.55L196.95,477.05" stroke="#1e1e1e" stroke-width="2.6" fill="none"/>
<path d="M219.15,497.96L226.65,505.46M226.65,497.96L219.15,505.46" stroke="#1e1e1e" stroke-width="2.6" fill="none"/>
<path d="M241.35,525.85L248.85,533.35M248.85,525.85L241.35,533.35" stroke="#1e1e1e" stroke-width="2.6" fill="none"/>
<path d="M263.55,545.22L271.05,552.72M271.05,545.22L263.55,552.72" stroke="#1e1e1e" stroke-width="2.6" fill="none"/>
<polygon points="64.1,418.32 70.9,418.32 67.5,424.9" fill="#fff" stroke="#1e1e1e" stroke-width="2.8" stroke-linejoin="round"/>
<polygon points="86.3,412.64 93.1,412.64 89.7,419.22" fill="#fff" stroke="#1e1e1e" stroke-width="2.8" stroke-linejoin="round"/>
<polygon points="108.5,402.83 115.3,402.83 111.9,409.41" fill="#fff" stroke="#1e1e1e" stroke-width="2.8" stroke-linejoin="round"/>
<polygon points="130.7,413.16 137.5,413.16 134.1,419.74" fill="#fff" stroke="#1e1e1e" stroke-width="2.8" stroke-linejoin="round"/>
<polygon points="152.9,411.61 159.7,411.61 156.3,418.19" fill="#fff" stroke="#1e1e1e" stroke-width="2.8" stroke-linejoin="round"/>
<polygon points="175.1,427.62 181.9,427.62 178.5,434.2" fill="#fff" stroke="#1e1e1e" stroke-width="2.8" stroke-linejoin="round"/>
<polygon points="197.3,452.41 204.1,452.41 200.7,458.99" fill="#fff" stroke="#1e1e1e" stroke-width="2.8" stroke-linejoin="round"/>
<polygon points="219.5,484.44 226.3,484.44 222.9,491.02" fill="#fff" stroke="#1e1e1e" stroke-width="2.8" stroke-linejoin="round"/>
<polygon points="241.7,512.84 248.5,512.84 245.1,519.42" fill="#fff" stroke="#1e1e1e" stroke-width="2.8" stroke-linejoin="round"/>
<polygon points="263.9,531.95 270.7,531.95 267.3,538.53" fill="#fff" stroke="#1e1e1e" stroke-width="2.8" stroke-linejoin="round"/>
<polygon points="286.1,524.72 292.9,524.72 289.5,531.3" fill="#fff" stroke="#1e1e1e" stroke-width="2.8" stroke-linejoin="round"/>
<polygon points="308.3,505.1 315.1,505.1 311.7,511.68" fill="#fff" stroke="#1e1e1e" stroke-width="2.8" stroke-linejoin="round"/>
<polygon points="330.5,477.72 337.3,477.72 333.9,484.3" fill="#fff" stroke="#1e1e1e" stroke-width="2.8" stroke-linejoin="round"/>
<polygon points="352.7,457.06 359.5,457.06 356.1,463.64" fill="#fff" stroke="#1e1e1e" stroke-width="2.8" stroke-linejoin="round"/>
<polygon points="374.9,448.8 381.7,448.8 378.3,455.38" fill="#fff" stroke="#1e1e1e" stroke-width="2.8" stroke-linejoin="round"/>
<rect x="63.25" y="417.4" width="8.5" height="8.5" fill="#1e1e1e"/>
<rect x="85.45" y="409.65" width="8.5" height="8.5" fill="#1e1e1e"/>
<rect x="107.65" y="408.1" width="8.5" height="8.5" fill="#1e1e1e"/>
<rect x="129.85" y="409.65" width="8.5" height="8.5" fill="#1e1e1e"/>
<rect x="152.05" y="415.85" width="8.5" height="8.5" fill="#1e1e1e"/>
<rect x="174.25" y="428.25" width="8.5" height="8.5" fill="#1e1e1e"/>
<rect x="196.45" y="435.48" width="8.5" height="8.5" fill="#1e1e1e"/>
<rect x="218.65" y="439.09" width="8.5" height="8.5" fill="#1e1e1e"/>
<rect x="240.85" y="434.96" width="8.5" height="8.5" fill="#1e1e1e"/>
<rect x="263.05" y="421.02" width="8.5" height="8.5" fill="#1e1e1e"/>
<rect x="285.25" y="418.43" width="8.5" height="8.5" fill="#1e1e1e"/>
<rect x="307.45" y="405" width="8.5" height="8.5" fill="#1e1e1e"/>
<rect x="329.65" y="408.88" width="8.5" height="8.5" fill="#1e1e1e"/>
<rect x="351.85" y="412.75" width="8.5" height="8.5" fill="#1e1e1e"/>
<rect x="374.05" y="416.63" width="8.5" height="8.5" fill="#1e1e1e"/>
<line x1="82.3" y1="499" x2="104.7" y2="499" stroke="#1e1e1e" stroke-width="2.1" />
<rect x="89.25" y="494.75" width="8.5" height="8.5" fill="#1e1e1e"/>
<text x="112" y="505.4" font-size="15" text-anchor="start" letter-spacing="0.75" fill="#1e1e1e" font-weight="normal">M2e5x</text>
<line x1="82.3" y1="522.9" x2="104.7" y2="522.9" stroke="#1e1e1e" stroke-width="2.1" />
<polygon points="89.95,519.25 97.05,519.25 93.5,526.61" fill="#fff" stroke="#1e1e1e" stroke-width="2.6" stroke-linejoin="round"/>
<text x="112" y="528.8" font-size="15" text-anchor="start" letter-spacing="0.85" fill="#1e1e1e" font-weight="normal">M2WT</text>
<line x1="82.3" y1="546.6" x2="104.7" y2="546.6" stroke="#1e1e1e" stroke-width="2.1" />
<path d="M89.75,542.85L97.25,550.35M97.25,542.85L89.75,550.35" stroke="#1e1e1e" stroke-width="2.6" fill="none"/>
<text x="112" y="550.6" font-size="15" text-anchor="start" letter-spacing="0.6" fill="#1e1e1e" font-weight="normal">Naive</text>
<text x="414.5" y="375.2" font-size="33" text-anchor="start" letter-spacing="0" fill="#000" font-weight="bold">d</text>
<line x1="482.4" y1="368.8" x2="482.4" y2="575.55" stroke="#1e1e1e" stroke-width="1.9" />
<line x1="476.4" y1="574.6" x2="482.4" y2="574.6" stroke="#1e1e1e" stroke-width="1.9" />
<text x="473.6" y="579.4" font-size="15" text-anchor="end" letter-spacing="0.9" fill="#1e1e1e" font-weight="normal">0</text>
<line x1="476.4" y1="523.15" x2="482.4" y2="523.15" stroke="#1e1e1e" stroke-width="1.9" />
<text x="473.6" y="527.95" font-size="15" text-anchor="end" letter-spacing="0.9" fill="#1e1e1e" font-weight="normal">25</text>
<line x1="476.4" y1="471.7" x2="482.4" y2="471.7" stroke="#1e1e1e" stroke-width="1.9" />
<text x="473.6" y="476.5" font-size="15" text-anchor="end" letter-spacing="0.9" fill="#1e1e1e" font-weight="normal">50</text>
<line x1="476.4" y1="420.25" x2="482.4" y2="420.25" stroke="#1e1e1e" stroke-width="1.9" />
<text x="473.6" y="425.05" font-size="15" text-anchor="end" letter-spacing="0.9" fill="#1e1e1e" font-weight="normal">75</text>
<line x1="476.4" y1="368.8" x2="482.4" y2="368.8" stroke="#1e1e1e" stroke-width="1.9" />
<text x="473.6" y="373.6" font-size="15" text-anchor="end" letter-spacing="0.9" fill="#1e1e1e" font-weight="normal">100</text>
<line x1="476.4" y1="574.6" x2="791.77" y2="574.6" stroke="#1e1e1e" stroke-width="1.9" />
<line x1="482.4" y1="574.6" x2="482.4" y2="580.2" stroke="#1e1e1e" stroke-width="1.9" />
<text x="482.4" y="597" font-size="15" text-anchor="middle" letter-spacing="0.5" fill="#1e1e1e" font-weight="normal">0</text>
<line x1="504.43" y1="574.6" x2="504.43" y2="580.2" stroke="#1e1e1e" stroke-width="1.9" />
<text x="504.43" y="597" font-size="15" text-anchor="middle" letter-spacing="0.5" fill="#1e1e1e" font-weight="normal">1</text>
<line x1="526.46" y1="574.6" x2="526.46" y2="580.2" stroke="#1e1e1e" stroke-width="1.9" />
<text x="526.46" y="597" font-size="15" text-anchor="middle" letter-spacing="0.5" fill="#1e1e1e" font-weight="normal">2</text>
<line x1="548.49" y1="574.6" x2="548.49" y2="580.2" stroke="#1e1e1e" stroke-width="1.9" />
<text x="548.49" y="597" font-size="15" text-anchor="middle" letter-spacing="0.5" fill="#1e1e1e" font-weight="normal">3</text>
<line x1="570.52" y1="574.6" x2="570.52" y2="580.2" stroke="#1e1e1e" stroke-width="1.9" />
<text x="570.52" y="597" font-size="15" text-anchor="middle" letter-spacing="0.5" fill="#1e1e1e" font-weight="normal">4</text>
<line x1="592.55" y1="574.6" x2="592.55" y2="580.2" stroke="#1e1e1e" stroke-width="1.9" />
<text x="592.55" y="597" font-size="15" text-anchor="middle" letter-spacing="0.5" fill="#1e1e1e" font-weight="normal">5</text>
<line x1="614.58" y1="574.6" x2="614.58" y2="580.2" stroke="#1e1e1e" stroke-width="1.9" />
<text x="614.58" y="597" font-size="15" text-anchor="middle" letter-spacing="0.5" fill="#1e1e1e" font-weight="normal">6</text>
<line x1="636.61" y1="574.6" x2="636.61" y2="580.2" stroke="#1e1e1e" stroke-width="1.9" />
<text x="636.61" y="597" font-size="15" text-anchor="middle" letter-spacing="0.5" fill="#1e1e1e" font-weight="normal">7</text>
<line x1="658.64" y1="574.6" x2="658.64" y2="580.2" stroke="#1e1e1e" stroke-width="1.9" />
<text x="658.64" y="597" font-size="15" text-anchor="middle" letter-spacing="0.5" fill="#1e1e1e" font-weight="normal">8</text>
<line x1="680.67" y1="574.6" x2="680.67" y2="580.2" stroke="#1e1e1e" stroke-width="1.9" />
<text x="680.67" y="597" font-size="15" text-anchor="middle" letter-spacing="0.5" fill="#1e1e1e" font-weight="normal">9</text>
<line x1="702.7" y1="574.6" x2="702.7" y2="580.2" stroke="#1e1e1e" stroke-width="1.9" />
<text x="702.7" y="597" font-size="15" text-anchor="middle" letter-spacing="0.5" fill="#1e1e1e" font-weight="normal">10</text>
<line x1="724.73" y1="574.6" x2="724.73" y2="580.2" stroke="#1e1e1e" stroke-width="1.9" />
<text x="724.73" y="597" font-size="15" text-anchor="middle" letter-spacing="0.5" fill="#1e1e1e" font-weight="normal">11</text>
<line x1="746.76" y1="574.6" x2="746.76" y2="580.2" stroke="#1e1e1e" stroke-width="1.9" />
<text x="746.76" y="597" font-size="15" text-anchor="middle" letter-spacing="0.5" fill="#1e1e1e" font-weight="normal">12</text>
<line x1="768.79" y1="574.6" x2="768.79" y2="580.2" stroke="#1e1e1e" stroke-width="1.9" />
<text x="768.79" y="597" font-size="15" text-anchor="middle" letter-spacing="0.5" fill="#1e1e1e" font-weight="normal">13</text>
<line x1="790.82" y1="574.6" x2="790.82" y2="580.2" stroke="#1e1e1e" stroke-width="1.9" />
<text x="790.82" y="597" font-size="15" text-anchor="middle" letter-spacing="0.5" fill="#1e1e1e" font-weight="normal">14</text>
<text x="637.5" y="617.8" font-size="15" text-anchor="middle" letter-spacing="0.54" fill="#1e1e1e" font-weight="normal">Days post-infection</text>
<text x="0" y="0" font-size="15" text-anchor="middle" letter-spacing="0.66" fill="#1e1e1e" transform="translate(429.3,469.3) rotate(-90)">Survival rate (%)</text>
<line x1="482.4" y1="368.8" x2="790.82" y2="368.8" stroke="#1e1e1e" stroke-width="1.7" />
<line x1="680.67" y1="368.8" x2="680.67" y2="506.07" stroke="#1e1e1e" stroke-width="1.7" />
<line x1="680.67" y1="437.33" x2="702.7" y2="437.33" stroke="#1e1e1e" stroke-width="1.7" />
<line x1="702.7" y1="437.33" x2="702.7" y2="574.6" stroke="#1e1e1e" stroke-width="1.7" />
<line x1="680.67" y1="506.07" x2="790.82" y2="506.07" stroke="#1e1e1e" stroke-width="1.7" />
<rect x="478.25" y="364.65" width="8.3" height="8.3" fill="#1e1e1e"/>
<rect x="500.28" y="364.65" width="8.3" height="8.3" fill="#1e1e1e"/>
<rect x="522.31" y="364.65" width="8.3" height="8.3" fill="#1e1e1e"/>
<rect x="544.34" y="364.65" width="8.3" height="8.3" fill="#1e1e1e"/>
<rect x="566.37" y="364.65" width="8.3" height="8.3" fill="#1e1e1e"/>
<rect x="588.4" y="364.65" width="8.3" height="8.3" fill="#1e1e1e"/>
<rect x="610.43" y="364.65" width="8.3" height="8.3" fill="#1e1e1e"/>
<rect x="632.46" y="364.65" width="8.3" height="8.3" fill="#1e1e1e"/>
<rect x="654.49" y="364.65" width="8.3" height="8.3" fill="#1e1e1e"/>
<rect x="676.52" y="364.65" width="8.3" height="8.3" fill="#1e1e1e"/>
<rect x="698.55" y="364.65" width="8.3" height="8.3" fill="#1e1e1e"/>
<rect x="720.58" y="364.65" width="8.3" height="8.3" fill="#1e1e1e"/>
<rect x="742.61" y="364.65" width="8.3" height="8.3" fill="#1e1e1e"/>
<rect x="764.64" y="364.65" width="8.3" height="8.3" fill="#1e1e1e"/>
<rect x="786.67" y="364.65" width="8.3" height="8.3" fill="#1e1e1e"/>
<polygon points="478.15,365.07 486.65,365.07 482.4,372.77" fill="#1e1e1e" stroke="#1e1e1e" stroke-width="2" stroke-linejoin="round"/>
<polygon points="500.18,365.07 508.68,365.07 504.43,372.77" fill="#1e1e1e" stroke="#1e1e1e" stroke-width="2" stroke-linejoin="round"/>
<polygon points="522.21,365.07 530.71,365.07 526.46,372.77" fill="#1e1e1e" stroke="#1e1e1e" stroke-width="2" stroke-linejoin="round"/>
<polygon points="544.24,365.07 552.74,365.07 548.49,372.77" fill="#1e1e1e" stroke="#1e1e1e" stroke-width="2" stroke-linejoin="round"/>
<polygon points="566.27,365.07 574.77,365.07 570.52,372.77" fill="#1e1e1e" stroke="#1e1e1e" stroke-width="2" stroke-linejoin="round"/>
<polygon points="588.3,365.07 596.8,365.07 592.55,372.77" fill="#1e1e1e" stroke="#1e1e1e" stroke-width="2" stroke-linejoin="round"/>
<polygon points="610.33,365.07 618.83,365.07 614.58,372.77" fill="#1e1e1e" stroke="#1e1e1e" stroke-width="2" stroke-linejoin="round"/>
<polygon points="632.36,365.07 640.86,365.07 636.61,372.77" fill="#1e1e1e" stroke="#1e1e1e" stroke-width="2" stroke-linejoin="round"/>
<polygon points="654.39,365.07 662.89,365.07 658.64,372.77" fill="#1e1e1e" stroke="#1e1e1e" stroke-width="2" stroke-linejoin="round"/>
<polygon points="676.42,365.07 684.92,365.07 680.67,372.77" fill="#1e1e1e" stroke="#1e1e1e" stroke-width="2" stroke-linejoin="round"/>
<polygon points="676.42,433.61 684.92,433.61 680.67,441.31" fill="#1e1e1e" stroke="#1e1e1e" stroke-width="2" stroke-linejoin="round"/>
<polygon points="699.08,433.86 706.33,433.86 702.7,440.86" fill="#fff" stroke="#1e1e1e" stroke-width="2.5" stroke-linejoin="round"/>
<polygon points="699.08,502.59 706.33,502.59 702.7,509.59" fill="#fff" stroke="#1e1e1e" stroke-width="2.5" stroke-linejoin="round"/>
<polygon points="721.11,502.59 728.36,502.59 724.73,509.59" fill="#fff" stroke="#1e1e1e" stroke-width="2.5" stroke-linejoin="round"/>
<polygon points="743.13,502.59 750.38,502.59 746.76,509.59" fill="#fff" stroke="#1e1e1e" stroke-width="2.5" stroke-linejoin="round"/>
<polygon points="765.16,502.59 772.41,502.59 768.79,509.59" fill="#fff" stroke="#1e1e1e" stroke-width="2.5" stroke-linejoin="round"/>
<polygon points="787.19,502.59 794.44,502.59 790.82,509.59" fill="#fff" stroke="#1e1e1e" stroke-width="2.5" stroke-linejoin="round"/>
<path d="M677.17,502.57L684.17,509.57M684.17,502.57L677.17,509.57" stroke="#1e1e1e" stroke-width="2.4" fill="none"/>
<path d="M699.2,502.57L706.2,509.57M706.2,502.57L699.2,509.57" stroke="#1e1e1e" stroke-width="2.4" fill="none"/>
<rect x="699.2" y="502.57" width="7" height="7" fill="#1e1e1e"/>
<path d="M699.2,571.1L706.2,578.1M706.2,571.1L699.2,578.1" stroke="#1e1e1e" stroke-width="2.4" fill="none"/>
<line x1="496.2" y1="506.6" x2="517.7" y2="506.6" stroke="#1e1e1e" stroke-width="2.1" />
<rect x="502.75" y="502.35" width="8.5" height="8.5" fill="#1e1e1e"/>
<text x="520.8" y="511.6" font-size="15" text-anchor="start" letter-spacing="0.75" fill="#1e1e1e" font-weight="normal">M2e5x</text>
<line x1="496.2" y1="530" x2="517.7" y2="530" stroke="#1e1e1e" stroke-width="2.1" />
<polygon points="503.45,526.35 510.55,526.35 507,533.71" fill="#fff" stroke="#1e1e1e" stroke-width="2.6" stroke-linejoin="round"/>
<text x="520.8" y="535" font-size="15" text-anchor="start" letter-spacing="1.1" fill="#1e1e1e" font-weight="normal">M2WT</text>
<line x1="496.2" y1="554" x2="517.7" y2="554" stroke="#1e1e1e" stroke-width="2.1" />
<path d="M503.25,550.25L510.75,557.75M510.75,550.25L503.25,557.75" stroke="#1e1e1e" stroke-width="2.6" fill="none"/>
<text x="520.8" y="559" font-size="15" text-anchor="start" letter-spacing="0.75" fill="#1e1e1e" font-weight="normal">Naive</text>
</svg></body></html>
